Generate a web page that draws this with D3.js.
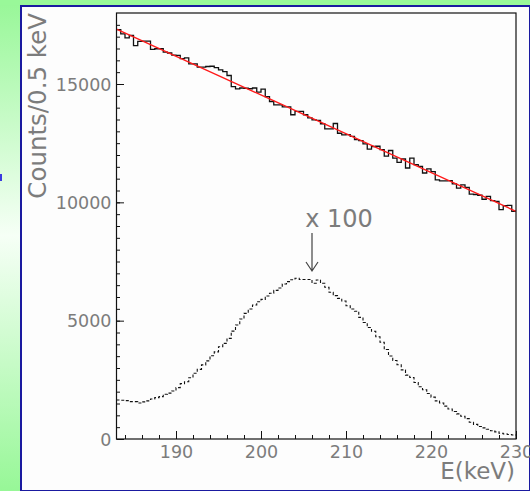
<!DOCTYPE html>
<html>
<head>
<meta charset="utf-8">
<script src="https://cdn.jsdelivr.net/npm/d3@7"></script>
<style>
  body { margin: 0; background: #fff; }
  svg { display: block; }
</style>
</head>
<body>
<svg class="spectrum"></svg>
<script>
const BIN_START = 183
const BIN_WIDTH = 0.5

// counts per 0.5 keV bin, 183 -> 230 keV
const MEASURED = [
    17300, 17120, 16950, 17050, 16620, 16800, 16810, 16810, 16460, 16490,
    16490, 16350, 16310, 16220, 16210, 16070, 16100, 15850, 15850, 15710,
    15710, 15740, 15750, 15690, 15600, 15520, 15360, 14890, 14790, 14830,
    14820, 14800, 14830, 14660, 14780, 14470, 14260, 14120, 14120, 14030,
    14030, 13700, 13840, 13840, 13700, 13570, 13480, 13460, 13320, 13100,
    13100, 13330, 12920, 12850, 12860, 12790, 12650, 12610, 12470, 12250,
    12360, 12370, 12230, 11950, 12190, 11870, 11690, 11830, 11450, 11870,
    11590, 11520, 11240, 11410, 11300, 10950, 10910, 10910, 10920, 10780,
    10600, 10740, 10630, 10350, 10330, 10300, 10130, 10250, 10070, 10040,
    9690, 9860, 9870, 9620
]

// lower spectrum, already multiplied by 100
const SCALED_X100 = [
    1650, 1640, 1620, 1580, 1580, 1520, 1570, 1610, 1690, 1750,
    1790, 1890, 1940, 2030, 2170, 2340, 2420, 2590, 2780, 2940,
    3130, 3300, 3520, 3680, 3900, 4040, 4250, 4560, 4820, 5070,
    5310, 5490, 5660, 5800, 5900, 6040, 6160, 6280, 6380, 6550,
    6650, 6730, 6790, 6740, 6740, 6740, 6580, 6720, 6580, 6410,
    6200, 6060, 5940, 5830, 5630, 5490, 5400, 5140, 4920, 4710,
    4550, 4320, 4090, 3780, 3510, 3320, 3140, 2920, 2700, 2600,
    2390, 2210, 2080, 1920, 1770, 1610, 1520, 1390, 1270, 1160,
    1060, 960, 860, 710, 620, 530, 470, 410, 350, 300,
    240, 210, 190, 170
]

// straight fit through the measured spectrum (end points)
const FIT_LINE = [[183, 17320], [230, 9620]]

const X_TICKS = [190, 200, 210, 220, 230]
const X_MINOR = [184, 186, 188, 192, 194, 196, 198, 202, 204, 206, 208, 212, 214, 216, 218, 222, 224, 226, 228]
const Y_TICKS = [0, 5000, 10000, 15000]
const X_DOMAIN = [183, 230]
const Y_DOMAIN = [0, 18000]

const X_TITLE = 'E(keV)'
const Y_TITLE = 'Counts/0.5 keV'
const NOTE = 'x 100'
const NOTE_AT = [205.2, 8960]
const ARROW = { energy: 206, from: 8700, to: 7100 }

const width = 530
const height = 491
const margin = { top: 13, right: 14, bottom: 52, left: 116.5 }
const FONT = 'DejaVu Sans'
const TEXT_GREY = '#7c7c7c'

const svg = d3.select('.spectrum')
    .attr('width', width)
    .attr('height', height)

const x = d3.scaleLinear()
    .domain(X_DOMAIN)
    .range([margin.left, width - margin.right])

const y = d3.scaleLinear()
    .domain(Y_DOMAIN)
    .range([height - margin.bottom, margin.top])

function drawBackground() {
    const grad = svg.append('defs').append('linearGradient')
        .attr('id', 'slideBg')
        .attr('x1', 0).attr('y1', 0).attr('x2', 0).attr('y2', 1)
    grad.append('stop').attr('offset', '0%').attr('stop-color', '#97f797')
    grad.append('stop').attr('offset', '48%').attr('stop-color', '#f6fff6')
    grad.append('stop').attr('offset', '100%').attr('stop-color', '#97f797')

    svg.append('rect')
        .attr('width', width).attr('height', height)
        .attr('fill', 'url(#slideBg)')

    svg.append('rect')
        .attr('x', 0).attr('y', 0).attr('width', width).attr('height', 5)
        .attr('fill', '#99f899')

    svg.append('rect')
        .attr('x', 21).attr('y', 6)
        .attr('width', width - 21).attr('height', height - 6)
        .attr('fill', '#fdfdfd')
        .attr('stroke', '#1a1aa0')
        .attr('stroke-width', 2)

    svg.append('rect')
        .attr('x', 0).attr('y', 174).attr('width', 2).attr('height', 7)
        .attr('fill', '#3a3ae0')
}

// bin contents -> [edge, value] pairs for a step line
function toSteps(values) {
    const pts = values.map((v, i) => [BIN_START + i * BIN_WIDTH, v])
    pts.push([BIN_START + values.length * BIN_WIDTH, values[values.length - 1]])
    return pts
}

function drawAxes() {
    const xMajor = svg.append('g')
        .attr('transform', `translate(0,${y(0)})`)
        .call(d3.axisBottom(x).tickValues(X_TICKS).tickSize(-8).tickFormat(d3.format('d')))
    const xMinor = svg.append('g')
        .attr('transform', `translate(0,${y(0)})`)
        .call(d3.axisBottom(x).tickValues(X_MINOR).tickSize(-4).tickFormat(''))

    const yMajor = svg.append('g')
        .attr('transform', `translate(${x(X_DOMAIN[0])},0)`)
        .call(d3.axisLeft(y).tickValues(Y_TICKS).tickSize(-7.5).tickPadding(5).tickFormat(d3.format('d')))
    const yMinor = svg.append('g')
        .attr('transform', `translate(${x(X_DOMAIN[0])},0)`)
        .call(d3.axisLeft(y).tickValues(d3.range(500, 18000, 500)).tickSize(-3.5).tickFormat(''))

    for (const g of [xMajor, xMinor, yMajor, yMinor]) {
        g.select('.domain').remove()
        g.selectAll('line').attr('stroke', '#111').attr('stroke-width', 1)
    }

    xMajor.selectAll('text')
        .attr('y', 19)
        .attr('dy', null)
        .style('font-family', FONT)
        .style('font-size', '17.5px')
        .style('fill', TEXT_GREY)

    yMajor.selectAll('text')
        .attr('dy', '0.36em')
        .style('font-family', FONT)
        .style('font-size', '17.5px')
        .style('fill', TEXT_GREY)

    svg.append('rect')
        .attr('x', x(X_DOMAIN[0]))
        .attr('y', y(Y_DOMAIN[1]))
        .attr('width', x(X_DOMAIN[1]) - x(X_DOMAIN[0]))
        .attr('height', y(Y_DOMAIN[0]) - y(Y_DOMAIN[1]))
        .attr('fill', 'none')
        .attr('stroke', '#111')
        .attr('stroke-width', 1.2)
}

function drawSpectra() {
    const line = d3.line()
        .x(d => x(d[0]))
        .y(d => y(d[1]))

    const stepLine = d3.line()
        .x(d => x(d[0]))
        .y(d => y(d[1]))
        .curve(d3.curveStepAfter)

    svg.append('path')
        .attr('d', stepLine(toSteps(SCALED_X100)))
        .attr('fill', 'none')
        .attr('stroke', '#111')
        .attr('stroke-width', 1.1)
        .attr('stroke-dasharray', '3,2')

    svg.append('path')
        .attr('d', stepLine(toSteps(MEASURED)))
        .attr('fill', 'none')
        .attr('stroke', '#111')
        .attr('stroke-width', 1.3)

    svg.append('path')
        .attr('d', line(FIT_LINE))
        .attr('fill', 'none')
        .attr('stroke', '#ff1a1a')
        .attr('stroke-width', 1.4)
}

function drawLabels() {
    svg.append('text')
        .attr('x', x(X_DOMAIN[1]) - 1)
        .attr('y', 479)
        .attr('text-anchor', 'end')
        .style('font-family', FONT)
        .style('font-size', '23px')
        .style('fill', TEXT_GREY)
        .text(X_TITLE)

    svg.append('text')
        .attr('transform', `translate(46,${margin.top}) rotate(-90)`)
        .attr('text-anchor', 'end')
        .style('font-family', FONT)
        .style('font-size', '24.5px')
        .style('fill', TEXT_GREY)
        .text(Y_TITLE)

    svg.append('text')
        .attr('x', x(NOTE_AT[0]))
        .attr('y', y(NOTE_AT[1]))
        .style('font-family', FONT)
        .style('font-size', '24px')
        .style('fill', TEXT_GREY)
        .text(NOTE)

    const ax = x(ARROW.energy)
    const tip = y(ARROW.to)
    svg.append('path')
        .attr('d', `M${ax},${y(ARROW.from)}V${tip}M${ax - 6},${tip - 9}L${ax},${tip}L${ax + 6},${tip - 9}`)
        .attr('fill', 'none')
        .attr('stroke', '#444')
        .attr('stroke-width', 1.2)
}

drawBackground()
drawSpectra()
drawAxes()
drawLabels()
</script>
</body>
</html>
